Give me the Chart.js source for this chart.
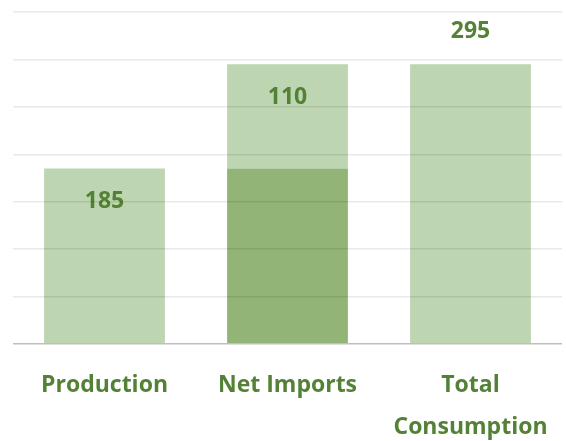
<!DOCTYPE html>
<html>
<head>
<meta charset="utf-8">
<script src="https://cdn.jsdelivr.net/npm/chart.js@4/dist/chart.umd.min.js"></script>
<style>
  html, body { margin: 0; padding: 0; background: #ffffff; }
  #wrap { width: 566px; height: 441px; position: relative; }
</style>
</head>
<body>
<div id="wrap"><canvas id="c"></canvas></div>
<script>
const categories = ['Production', 'Net Imports', ['Total', 'Consumption']];
const baseValues = [0, 185, 0];
const deltaValues = [185, 110, 295];
const labelPlacement = ['inside', 'inside', 'outside'];
const yTicks = [0, 50, 100, 150, 200, 250, 300, 350];

const GREEN_TEXT = '#538135';
const LIGHT = '#bed5b1';
const DARK = '#92b577';
const FONT = '"Open Sans", sans-serif';

const labelPlugin = {
  id: 'valueLabels',
  afterDatasetsDraw(chart) {
    const ctx = chart.ctx;
    const meta = chart.getDatasetMeta(1);
    ctx.save();
    ctx.fillStyle = GREEN_TEXT;
    ctx.font = 'bold 23px ' + FONT;
    ctx.textAlign = 'center';
    ctx.textBaseline = 'middle';
    meta.data.forEach((bar, i) => {
      const y = labelPlacement[i] === 'inside' ? bar.y + 33 : bar.y - 33;
      ctx.fillText(String(deltaValues[i]), bar.x, y);
    });
    ctx.restore();
  }
};

new Chart(document.getElementById('c'), {
  type: 'bar',
  data: {
    labels: categories,
    datasets: [
      { label: 'Base', data: baseValues, backgroundColor: DARK, borderWidth: 0,
        barPercentage: 0.66, categoryPercentage: 1.0 },
      { label: 'Value', data: deltaValues, backgroundColor: LIGHT, borderWidth: 0,
        barPercentage: 0.66, categoryPercentage: 1.0 }
    ]
  },
  options: {
    responsive: true,
    maintainAspectRatio: false,
    animation: false,
    layout: { padding: { top: 12, left: 13, right: 4, bottom: 0 } },
    plugins: { legend: { display: false }, tooltip: { enabled: false } },
    scales: {
      x: {
        stacked: true,
        grid: { display: false },
        border: { display: false },
        afterFit(scale) { scale.height = 97; },
        ticks: {
          color: GREEN_TEXT,
          padding: 13,
          maxRotation: 0,
          autoSkip: false,
          font: { family: FONT, size: 23, weight: 'bold', lineHeight: 1.8 }
        }
      },
      y: {
        stacked: true,
        min: 0,
        max: 350,
        afterBuildTicks(axis) { axis.ticks = yTicks.map(v => ({ value: v })); },
        grid: {
          z: 1,
          drawTicks: false,
          lineWidth: 1.5,
          color: (c) => c.tick && c.tick.value === 0 ? '#bfbfbf' : 'rgba(0,0,0,0.09)'
        },
        border: { display: false },
        ticks: { display: false }
      }
    }
  },
  plugins: [labelPlugin]
});
</script>
</body>
</html>
